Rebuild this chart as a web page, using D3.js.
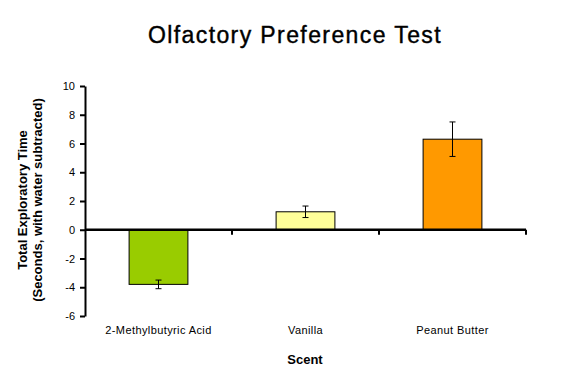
<!DOCTYPE html>
<html><head><meta charset="utf-8">
<script src="https://cdn.jsdelivr.net/npm/d3@7"></script>
<style>body{margin:0;background:#fff}svg{display:block}text{font-family:"Liberation Sans",Arial,sans-serif}</style>
</head><body>
<svg id="c" width="576" height="381"></svg>
<script>
const categories = ["2-Methylbutyric Acid", "Vanilla", "Peanut Butter"];
const values = [-3.8, 1.25, 6.3];
const errors = [0.3, 0.4, 1.2];
const colors = ["#99cc00", "#ffff99", "#ff9900"];
const yTicks = [-6, -4, -2, 0, 2, 4, 6, 8, 10];

const svg = d3.select("#c");
const x0 = 85, x1 = 526, yTop = 86, yBot = 316;
const y = d3.scaleLinear().domain([-6, 10]).range([yBot, yTop]);
const x = d3.scaleBand().domain(categories).range([x0, x1]).paddingInner(0.6).paddingOuter(0.3);

// title
svg.append("text").attr("x", 295).attr("y", 43).attr("text-anchor", "middle")
  .style("font-size", "23px").style("letter-spacing", "1.4px")
  .attr("stroke", "#000").attr("stroke-width", 0.4)
  .text("Olfactory Preference Test");

// bars
svg.selectAll("rect.bar").data(values).enter().append("rect")
  .attr("x", (d, i) => x(categories[i]))
  .attr("width", x.bandwidth())
  .attr("y", d => y(Math.max(0, d)))
  .attr("height", d => Math.abs(y(d) - y(0)))
  .attr("fill", (d, i) => colors[i]).attr("stroke", "#000").attr("stroke-width", 1);

// error bars
const eg = svg.selectAll("g.err").data(values).enter().append("g")
  .attr("transform", (d, i) => `translate(${x(categories[i]) + x.bandwidth() / 2},0)`);
eg.append("line").attr("y1", (d, i) => y(d + errors[i])).attr("y2", (d, i) => y(d - errors[i])).attr("stroke", "#000");
eg.append("line").attr("x1", -3).attr("x2", 3).attr("y1", (d, i) => y(d + errors[i])).attr("y2", (d, i) => y(d + errors[i])).attr("stroke", "#000");
eg.append("line").attr("x1", -3).attr("x2", 3).attr("y1", (d, i) => y(d - errors[i])).attr("y2", (d, i) => y(d - errors[i])).attr("stroke", "#000");

// y axis
const ya = svg.append("g").attr("transform", `translate(${x0},0)`)
  .call(d3.axisLeft(y).tickValues(yTicks).tickFormat(d => String(d)).tickSize(5).tickSizeOuter(0).tickPadding(5));
ya.select(".domain").attr("stroke-width", 2);
ya.selectAll(".tick line").attr("stroke-width", 2);
ya.selectAll("text").style("font-size", "11px").style("font-family", '"Liberation Sans",Arial,sans-serif');

// x axis (at zero)
const xa = svg.append("g").attr("transform", `translate(0,${y(0)})`);
xa.append("line").attr("x1", x0).attr("x2", x1).attr("stroke", "#000").attr("stroke-width", 2.5);
const bounds = d3.range(1, categories.length + 1).map(i => x0 + i * (x1 - x0) / categories.length);
xa.selectAll("line.t").data(bounds).enter().append("line")
  .attr("x1", d => d).attr("x2", d => d).attr("y1", 0).attr("y2", 5)
  .attr("stroke", "#000").attr("stroke-width", 2);

// x labels
svg.selectAll("text.xl").data(categories).enter().append("text")
  .attr("x", d => x(d) + x.bandwidth() / 2).attr("y", 334)
  .attr("text-anchor", "middle").style("font-size", "11px").style("letter-spacing", "0.4px").text(d => d);

// axis titles
svg.append("text").attr("x", 305).attr("y", 364).attr("text-anchor", "middle")
  .style("font-size", "13px").style("font-weight", "bold").text("Scent");
const yt = svg.append("text").attr("transform", "translate(0,200) rotate(-90)")
  .attr("text-anchor", "middle").style("font-size", "13px").style("font-weight", "bold");
yt.append("tspan").attr("x", 0).attr("y", 27).text("Total Exploratory Time");
yt.append("tspan").attr("x", 0).attr("y", 42).text("(Seconds, with water subtracted)");
</script>
</body></html>
